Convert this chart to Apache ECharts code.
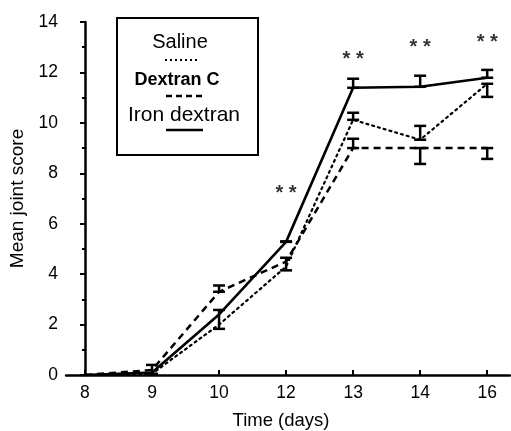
<!DOCTYPE html>
<html>
<head>
<meta charset="utf-8">
<script src="https://cdn.jsdelivr.net/npm/echarts@6/dist/echarts.min.js"></script>
<style>
  html, body { margin: 0; padding: 0; background: #fff; }
  #chart { width: 511px; height: 431px; }
</style>
</head>
<body>
<div id="chart"></div>
<script>
// days are plotted at even spacing, by index
const days = ['8', '9', '10', '12', '13', '14', '16']
const dayIdx = [0, 1, 2, 3, 4, 5, 6]

const saline = [0, 0.05, 2.0, 4.3, 10.12, 9.33, 11.55]
const dextranC = [0, 0.2, 3.3, 4.5, 9.0, 9.0, 9.0]
const ironDextran = [0, 0.1, 2.4, 5.28, 11.39, 11.43, 11.79]

// [day index, low, high]
const errBars = [
  [1, 0.05, 0.4],
  [2, 1.83, 2.58],
  [2, 3.3, 3.55],
  [3, 4.15, 4.65],
  [3, 5.28, 5.3],
  [4, 11.39, 11.75],
  [4, 10.12, 10.4],
  [4, 9.0, 9.37],
  [5, 11.43, 11.87],
  [5, 9.33, 9.88],
  [5, 8.37, 9.0],
  [6, 11.79, 12.1],
  [6, 11.03, 11.55],
  [6, 8.57, 9.0]
]

// significance marks [day index, y]
const stars = [
  [3, 7.2],
  [4, 12.5],
  [5, 13.0],
  [6, 13.2]
]

const font = 'Liberation Sans, Arial, sans-serif'
const pair = (vals) => vals.map((v, i) => [dayIdx[i], v])

const chart = echarts.init(document.getElementById('chart'))

const option = {
  animation: false,
  grid: { left: 66, right: 1, top: 22, bottom: 56, outerBoundsMode: 'none', containLabel: false },
  xAxis: {
    type: 'value',
    min: -0.283,
    max: 6.34,
    name: 'Time (days)',
    nameLocation: 'middle',
    nameGap: 36,
    nameTextStyle: { color: '#000', fontSize: 18.5, fontFamily: font, padding: [0, 14, 0, 0] },
    axisLine: { show: true, lineStyle: { color: '#000', width: 2.5 } },
    axisTick: { show: true, inside: true, length: 5, lineStyle: { width: 2 }, customValues: dayIdx },
    axisLabel: {
      color: '#000', fontSize: 17.5, fontFamily: font, margin: 9,
      customValues: dayIdx,
      formatter: (v) => days[Math.round(v)]
    },
    splitLine: { show: false }
  },
  yAxis: {
    type: 'value',
    min: 0,
    max: 14,
    interval: 2,
    name: 'Mean joint score',
    nameLocation: 'middle',
    nameGap: 34,
    nameTextStyle: { color: '#000', fontSize: 19, fontFamily: font },
    axisLine: { show: true, lineStyle: { color: '#000', width: 2.5 } },
    axisTick: { show: true, length: 5, lineStyle: { width: 2 } },
    minorTick: { show: true, splitNumber: 2, length: 3, lineStyle: { color: '#000', width: 2 } },
    axisLabel: { color: '#000', fontSize: 17.5, fontFamily: font, margin: 8 },
    splitLine: { show: false }
  },
  series: [
    {
      name: 'Saline',
      type: 'line',
      data: pair(saline),
      symbol: 'none',
      lineStyle: { color: '#000', width: 2.2, type: [2, 4], cap: 'round' }
    },
    {
      name: 'Dextran C',
      type: 'line',
      data: pair(dextranC),
      symbol: 'none',
      lineStyle: { color: '#000', width: 2.5, type: [7, 5] }
    },
    {
      name: 'Iron dextran',
      type: 'line',
      data: pair(ironDextran),
      symbol: 'none',
      lineStyle: { color: '#000', width: 2.6 }
    },
    {
      type: 'custom',
      data: errBars,
      renderItem: (params, api) => {
        const lo = api.coord([api.value(0), api.value(1)])
        const hi = api.coord([api.value(0), api.value(2)])
        const w = 6
        const st = { stroke: '#000', lineWidth: 2.5 }
        return {
          type: 'group',
          children: [
            { type: 'line', shape: { x1: lo[0], y1: lo[1], x2: hi[0], y2: hi[1] }, style: st },
            { type: 'line', shape: { x1: lo[0] - w, y1: lo[1], x2: lo[0] + w, y2: lo[1] }, style: st },
            { type: 'line', shape: { x1: hi[0] - w, y1: hi[1], x2: hi[0] + w, y2: hi[1] }, style: st }
          ]
        }
      },
      z: 3
    },
    {
      type: 'scatter',
      data: stars,
      symbolSize: 0,
      label: {
        show: true,
        position: 'inside',
        formatter: '* *',
        color: '#000',
        fontSize: 20,
        fontWeight: 'bold',
        fontFamily: font
      }
    }
  ],
  graphic: [
    { type: 'rect', shape: { x: 117, y: 18, width: 141, height: 137 }, style: { fill: '#fff', stroke: '#000', lineWidth: 2 }, z: 10 },
    { type: 'text', x: 180, y: 42, style: { text: 'Saline', font: '20px ' + font, fill: '#000', align: 'center', verticalAlign: 'middle' }, z: 11 },
    { type: 'line', shape: { x1: 165, y1: 60, x2: 198, y2: 60 }, style: { stroke: '#000', lineWidth: 2, lineDash: [2, 3] }, z: 11 },
    { type: 'text', x: 177, y: 80, style: { text: 'Dextran C', font: 'bold 18px ' + font, fill: '#000', align: 'center', verticalAlign: 'middle' }, z: 11 },
    { type: 'line', shape: { x1: 166, y1: 96, x2: 202, y2: 96 }, style: { stroke: '#000', lineWidth: 2.5, lineDash: [6, 4] }, z: 11 },
    { type: 'text', x: 184, y: 115, style: { text: 'Iron dextran', font: '21px ' + font, fill: '#000', align: 'center', verticalAlign: 'middle' }, z: 11 },
    { type: 'line', shape: { x1: 166, y1: 130, x2: 203, y2: 130 }, style: { stroke: '#000', lineWidth: 2.5 }, z: 11 }
  ]
}

chart.setOption(option)
</script>
</body>
</html>
